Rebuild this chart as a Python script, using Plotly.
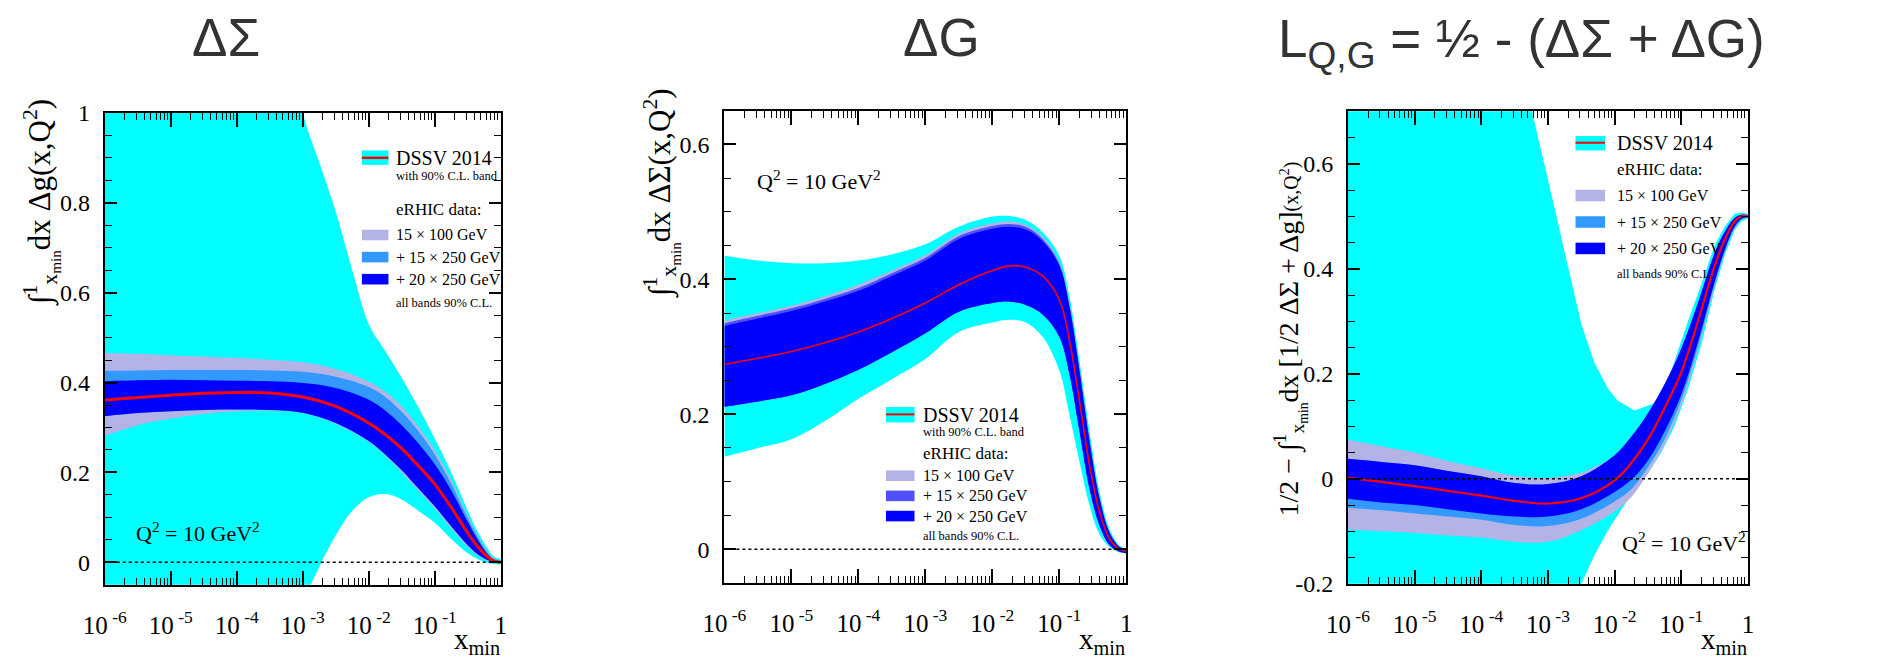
import plotly.graph_objects as go

W, H = 1881, 666
def px(x): return x / W
def py(y): return 1 - y / H

# ---------------- data ----------------
XTICK_VALS = [1e-6, 1e-5, 1e-4, 1e-3, 1e-2, 1e-1, 1]
XTICK_TEXT = ['10<sup> -6</sup>', '10<sup> -5</sup>', '10<sup> -4</sup>', '10<sup> -3</sup>',
              '10<sup> -2</sup>', '10<sup> -1</sup>', '1']

# Panel A : "ΔΣ" panel (y label Δg)
LOGX_A = [-6, -5.5, -5, -4.5, -4, -3.5, -3, -2.5, -2, -1.75, -1.5, -1.25, -1, -0.75, -0.5, -0.35, -0.2, -0.1, 0]
A_CENTRAL = [0.361, 0.367, 0.372, 0.376, 0.378, 0.377, 0.368, 0.347, 0.31, 0.284, 0.253, 0.215, 0.174, 0.122, 0.065, 0.035, 0.012, 0.003, 0.0]
A_20x250_HI = [0.403, 0.405, 0.406, 0.405, 0.404, 0.403, 0.399, 0.388, 0.362, 0.338, 0.305, 0.265, 0.218, 0.16, 0.09, 0.05, 0.018, 0.005, 0.001]
A_20x250_LO = [0.325, 0.332, 0.336, 0.339, 0.34, 0.339, 0.333, 0.31, 0.27, 0.24, 0.205, 0.165, 0.125, 0.08, 0.038, 0.018, 0.005, 0.0, -0.002]
A_15x250_HI = [0.426, 0.427, 0.428, 0.428, 0.428, 0.427, 0.424, 0.413, 0.39, 0.368, 0.335, 0.292, 0.24, 0.175, 0.098, 0.057, 0.021, 0.006, 0.001]
A_15x250_LO = [0.325, 0.332, 0.336, 0.339, 0.34, 0.339, 0.333, 0.31, 0.27, 0.24, 0.205, 0.165, 0.125, 0.08, 0.038, 0.018, 0.005, 0.0, -0.002]
A_15x100_HI = [0.466, 0.464, 0.461, 0.458, 0.455, 0.451, 0.445, 0.43, 0.402, 0.38, 0.347, 0.302, 0.25, 0.183, 0.103, 0.06, 0.023, 0.007, 0.001]
A_15x100_LO = [0.281, 0.305, 0.32, 0.33, 0.336, 0.337, 0.332, 0.308, 0.268, 0.237, 0.2, 0.16, 0.12, 0.075, 0.034, 0.015, 0.003, -0.001, -0.002]
LOGX_A_DSSV = [-6, -5, -4, -3.5, -3, -2.75, -2.5, -2.25, -2, -1.75, -1.5, -1.25, -1, -0.75, -0.5, -0.35, -0.2, -0.1, 0]
A_DSSV_HI = [3.0, 2.5, 1.9, 1.4, 1.0, 0.89, 0.78, 0.65, 0.53, 0.47, 0.41, 0.345, 0.275, 0.2, 0.115, 0.068, 0.03, 0.012, 0.008]
A_DSSV_LO = [-2.0, -1.5, -1.0, -0.5, -0.1, -0.01, 0.06, 0.115, 0.145, 0.152, 0.14, 0.115, 0.088, 0.052, 0.02, 0.007, -0.001, -0.004, -0.005]

# Panel B : "ΔG" panel (y label ΔΣ)
LOGX_B = [-6, -5.5, -5, -4.5, -4, -3.5, -3, -2.5, -2, -1.75, -1.5, -1.25, -1, -0.85, -0.7, -0.55, -0.4, -0.25, -0.1, 0]
B_CENTRAL = [0.274, 0.283, 0.293, 0.306, 0.322, 0.342, 0.365, 0.392, 0.413, 0.42, 0.418, 0.405, 0.37, 0.31, 0.22, 0.125, 0.055, 0.015, 0.0, -0.003]
B_20x250_HI = [0.331, 0.342, 0.353, 0.367, 0.383, 0.405, 0.428, 0.46, 0.475, 0.478, 0.474, 0.457, 0.42, 0.36, 0.265, 0.16, 0.075, 0.024, 0.003, -0.001]
B_20x250_LO = [0.211, 0.219, 0.228, 0.245, 0.266, 0.292, 0.32, 0.352, 0.365, 0.367, 0.362, 0.348, 0.315, 0.26, 0.175, 0.09, 0.035, 0.006, -0.004, -0.006]
B_15x250_HI = [0.335, 0.346, 0.357, 0.371, 0.387, 0.409, 0.432, 0.464, 0.479, 0.482, 0.478, 0.46, 0.423, 0.362, 0.267, 0.162, 0.076, 0.025, 0.003, -0.001]
B_15x100_HI = [0.339, 0.35, 0.361, 0.375, 0.392, 0.413, 0.436, 0.468, 0.483, 0.486, 0.481, 0.463, 0.425, 0.364, 0.268, 0.163, 0.077, 0.025, 0.003, -0.001]
B_DSSV_HI = [0.435, 0.428, 0.424, 0.424, 0.428, 0.437, 0.452, 0.478, 0.493, 0.494, 0.488, 0.47, 0.435, 0.375, 0.28, 0.175, 0.085, 0.03, 0.005, 0.0]
B_DSSV_LO = [0.137, 0.15, 0.163, 0.19, 0.223, 0.252, 0.282, 0.322, 0.336, 0.34, 0.336, 0.315, 0.265, 0.2, 0.13, 0.065, 0.022, 0.003, -0.005, -0.006]

# Panel C : "L_Q,G" panel
LOGX_C = [-6, -5.5, -5, -4.5, -4, -3.5, -3, -2.5, -2, -1.75, -1.5, -1.25, -1, -0.75, -0.5, -0.35, -0.2, -0.1, 0]
C_CENTRAL = [0.002, -0.006, -0.014, -0.023, -0.032, -0.042, -0.047, -0.037, -0.003, 0.03, 0.075, 0.135, 0.203, 0.3, 0.405, 0.455, 0.49, 0.5, 0.5]
C_20x250_HI = [0.038, 0.032, 0.026, 0.015, 0.005, -0.008, -0.01, 0.005, 0.045, 0.08, 0.125, 0.18, 0.248, 0.335, 0.43, 0.47, 0.497, 0.503, 0.502]
C_20x250_LO = [-0.038, -0.045, -0.05, -0.058, -0.066, -0.072, -0.072, -0.058, -0.025, -0.002, 0.035, 0.09, 0.16, 0.26, 0.375, 0.435, 0.48, 0.495, 0.498]
C_15x250_LO = [-0.055, -0.06, -0.066, -0.072, -0.078, -0.088, -0.09, -0.076, -0.043, -0.02, 0.022, 0.075, 0.15, 0.252, 0.37, 0.432, 0.478, 0.494, 0.498]
C_15x100_HI = [0.075, 0.062, 0.05, 0.034, 0.02, 0.006, 0.002, 0.012, 0.045, 0.08, 0.125, 0.18, 0.248, 0.335, 0.43, 0.47, 0.497, 0.503, 0.502]
C_15x100_LO = [-0.096, -0.1, -0.103, -0.108, -0.112, -0.12, -0.12, -0.098, -0.062, -0.035, 0.01, 0.065, 0.14, 0.245, 0.365, 0.43, 0.477, 0.493, 0.498]
LOGX_C_DSSV = [-6, -5, -4, -3.5, -3.24, -3, -2.75, -2.5, -2.3, -2.1, -1.95, -1.7, -1.5, -1.3, -1.1, -0.9, -0.7, -0.5, -0.35, -0.2, -0.1, 0]
C_DSSV_HI = [2.2, 1.7, 1.2, 0.88, 0.7, 0.57, 0.435, 0.295, 0.22, 0.172, 0.148, 0.13, 0.139, 0.15, 0.225, 0.3, 0.37, 0.445, 0.48, 0.505, 0.507, 0.505]
C_DSSV_LO = [-1.2, -0.9, -0.6, -0.45, -0.38, -0.33, -0.27, -0.2, -0.145, -0.098, -0.068, -0.02, 0.01, 0.05, 0.1, 0.17, 0.255, 0.36, 0.425, 0.474, 0.49, 0.496]

A_YTICKS = [0, 0.2, 0.4, 0.6, 0.8, 1.0]
A_YTEXT = ['0', '0.2', '0.4', '0.6', '0.8', '1']
B_YTICKS = [0, 0.2, 0.4, 0.6]
B_YTEXT = ['0', '0.2', '0.4', '0.6']
C_YTICKS = [-0.2, 0, 0.2, 0.4, 0.6]
C_YTEXT = ['-0.2', '0', '0.2', '0.4', '0.6']

TITLES = ['ΔΣ', 'ΔG', 'L<sub>Q,G</sub> = ½ - (ΔΣ + ΔG)']
LEG_DSSV = 'DSSV 2014'
LEG_CL = 'with 90% C.L. band'
LEG_ERHIC = 'eRHIC data:'
LEG_SETS = ['15 × 100 GeV', '+ 15 × 250 GeV', '+ 20 × 250 GeV']
LEG_ALL = 'all bands 90% C.L.'
Q2_TEXT = 'Q<sup>2</sup> = 10 GeV<sup>2</sup>'

# ---------------- style ----------------
COL_DSSV = '#00ffff'
COL_15x100 = '#b3b3e6'
COL_15x250 = '#3399ff'
COL_15x250_B = '#5050ff'
COL_20x250 = '#0000ff'
COL_RED = '#ff0000'
SERIF = 'Liberation Serif, Times New Roman, serif'
SANS = 'Liberation Sans, Arial, sans-serif'

fig = go.Figure()

def xs_of(logx):
    return [10 ** v for v in logx]

def band(logx, lo, hi, color, ax, shape='spline'):
    xs = xs_of(logx)
    fig.add_trace(go.Scatter(x=xs, y=lo, mode='lines', line=dict(width=0, shape=shape, color=color),
                             xaxis='x' + ax, yaxis='y' + ax, hoverinfo='skip', showlegend=False))
    fig.add_trace(go.Scatter(x=xs, y=hi, mode='lines', line=dict(width=0, shape=shape, color=color),
                             fill='tonexty', fillcolor=color,
                             xaxis='x' + ax, yaxis='y' + ax, hoverinfo='skip', showlegend=False))

def central(logx, y, ax, width):
    fig.add_trace(go.Scatter(x=xs_of(logx), y=y, mode='lines', line=dict(color=COL_RED, width=width, shape='spline'),
                             xaxis='x' + ax, yaxis='y' + ax, hoverinfo='skip', showlegend=False))

# Panel A
band(LOGX_A_DSSV, A_DSSV_LO, A_DSSV_HI, COL_DSSV, '')
band(LOGX_A, A_15x100_LO, A_15x100_HI, COL_15x100, '')
band(LOGX_A, A_15x250_LO, A_15x250_HI, COL_15x250, '')
band(LOGX_A, A_20x250_LO, A_20x250_HI, COL_20x250, '')
central(LOGX_A, A_CENTRAL, '', 3)
# Panel B
band(LOGX_B, B_DSSV_LO, B_DSSV_HI, COL_DSSV, '2')
band(LOGX_B, B_20x250_LO, B_15x100_HI, COL_15x100, '2')
band(LOGX_B, B_20x250_LO, B_15x250_HI, COL_15x250_B, '2')
band(LOGX_B, B_20x250_LO, B_20x250_HI, COL_20x250, '2')
central(LOGX_B, B_CENTRAL, '2', 1.6)
# Panel C
band(LOGX_C_DSSV, C_DSSV_LO, C_DSSV_HI, COL_DSSV, '3', shape='linear')
band(LOGX_C, C_15x100_LO, C_15x100_HI, COL_15x100, '3')
band(LOGX_C, C_15x250_LO, C_20x250_HI, COL_15x250, '3')
band(LOGX_C, C_20x250_LO, C_20x250_HI, COL_20x250, '3')
central(LOGX_C, C_CENTRAL, '3', 2.2)

XMINOR = [m * 10 ** k for k in range(-6, 0) for m in range(2, 10)]

def xaxis(dom, anchor):
    return dict(type='log', range=[-6, 0], domain=dom, anchor=anchor, showgrid=False, zeroline=False,
                showline=True, linecolor='black', linewidth=2, mirror='allticks',
                ticks='inside', ticklen=14, tickwidth=1.5, tickcolor='black',
                tickmode='array', tickvals=XTICK_VALS, ticktext=XTICK_TEXT,
                tickfont=dict(family=SERIF, size=25, color='black'), ticklabelstandoff=17,
                minor=dict(tickmode='array', tickvals=XMINOR, ticks='inside', ticklen=7,
                           tickwidth=1.2, tickcolor='black', showgrid=False),
                fixedrange=True)

def yaxis(dom, anchor, rng, vals, texts):
    return dict(range=rng, domain=dom, anchor=anchor, showgrid=False, zeroline=False,
                showline=True, linecolor='black', linewidth=2, mirror='allticks',
                ticks='inside', ticklen=12, tickwidth=1.5, tickcolor='black',
                tickmode='array', tickvals=vals, ticktext=texts,
                tickfont=dict(family=SERIF, size=24, color='black'), ticklabelstandoff=8,
                minor=dict(tickmode='linear', tick0=0, dtick=0.05, ticks='inside', ticklen=7,
                           tickwidth=1.2, tickcolor='black', showgrid=False),
                fixedrange=True)

PAN = {
    '': dict(x0=84, x1=486, y0=104, y1=595, rng=[-0.05, 1.0], vals=A_YTICKS, txt=A_YTEXT),
    '2': dict(x0=713, x1=1121, y0=101.7, y1=593, rng=[-0.05, 0.65], vals=B_YTICKS, txt=B_YTEXT),
    '3': dict(x0=1346, x1=1752, y0=102.3, y1=594, rng=[-0.2, 0.7], vals=C_YTICKS, txt=C_YTEXT),
}

layout = dict(width=W, height=H, autosize=False, margin=dict(l=0, r=0, t=0, b=0),
              paper_bgcolor='white', plot_bgcolor='white', showlegend=False)
for k, p in PAN.items():
    layout['xaxis' + k] = xaxis([px(p['x0']), px(p['x1'])], 'y' + k)
    layout['yaxis' + k] = yaxis([py(p['y1']), py(p['y0'])], 'x' + k, p['rng'], p['vals'], p['txt'])
fig.update_layout(**layout)

shapes = []
ann = []
# dotted zero lines
for k in PAN:
    shapes.append(dict(type='line', xref=('x' + k if k else 'x') + ' domain', yref='y' + k, x0=0, x1=1, y0=0, y1=0,
                       line=dict(color='black', width=1.5, dash='dot'), layer='above'))

def text(x, y, s, size, family=SERIF, xanchor='left', yanchor='middle', angle=0, color='black'):
    ann.append(dict(x=px(x), y=py(y), xref='paper', yref='paper', text=s, showarrow=False,
                    xanchor=xanchor, yanchor=yanchor, textangle=angle,
                    font=dict(family=family, size=size, color=color)))

def rect(x0, x1, y0, y1, color):
    shapes.append(dict(type='rect', xref='paper', yref='paper', x0=px(x0), x1=px(x1), y0=py(y1), y1=py(y0),
                       fillcolor=color, line=dict(width=0), layer='above'))

def hline(x0, x1, y, color, width):
    shapes.append(dict(type='line', xref='paper', yref='paper', x0=px(x0), x1=px(x1), y0=py(y), y1=py(y),
                       line=dict(color=color, width=width), layer='above'))

# titles
text(207, 26, TITLES[0], 53, SANS, 'center', 'middle', color='#333333')
text(933, 26, TITLES[1], 53, SANS, 'center', 'middle', color='#333333')
text(1522, 31, TITLES[2], 53, SANS, 'center', 'middle', color='#333333')

# y axis titles
text(20, 197, '∫<sup>1</sup><sub>x<sub>min</sub></sub>dx Δg(x,Q<sup>2</sup>)', 31, SERIF, 'center', 'middle', angle=-90)
text(648, 187, '∫<sup>1</sup><sub>x<sub>min</sub></sub>dx ΔΣ(x,Q<sup>2</sup>)', 31, SERIF, 'center', 'middle', angle=-90)
text(1287, 339, '1/2 − ∫<sup>1</sup><sub>x<sub>min</sub></sub>dx [1/2 ΔΣ + Δg]<span style="font-size:20px">(x,Q<sup>2</sup>)</span>',
     28, SERIF, 'center', 'middle', angle=-90)

# x axis titles
for k, p in PAN.items():
    text(p['x1'] + 1, 674, 'x<sub>min</sub>', 29, SERIF, 'right', 'bottom')

# Q^2 labels
text(114, 540, Q2_TEXT, 22)
text(744, 174, Q2_TEXT, 22)
text(1622, 551, Q2_TEXT, 22)

# legend panel A
rect(345, 372, 143, 158, COL_DSSV); hline(345, 372, 150.7, COL_RED, 2.5)
text(378, 151, LEG_DSSV, 20)
text(378, 170, LEG_CL, 12.5)
text(378, 205, LEG_ERHIC, 17)
for yc, col, s in zip([231, 254, 277], [COL_15x100, COL_15x250, COL_20x250], LEG_SETS):
    rect(345, 372, yc - 5.5, yc + 5.5, col)
    text(378, yc, s, 16)
text(378, 302, LEG_ALL, 12.5)

# legend panel B
rect(877, 906, 410, 426, COL_DSSV); hline(877, 906, 417.7, COL_RED, 2)
text(913, 418, LEG_DSSV, 20)
text(913, 436, LEG_CL, 12.5)
text(913, 458, LEG_ERHIC, 17)
for yc, col, s in zip([481.5, 502.5, 523.5], [COL_15x100, COL_15x250_B, COL_20x250], LEG_SETS):
    rect(877, 906, yc - 5.5, yc + 5.5, col)
    text(913, yc, s, 16)
text(913, 544, LEG_ALL, 12.5)

# legend panel C
rect(1577, 1607, 128, 143, COL_DSSV); hline(1577, 1607, 135, COL_RED, 2)
text(1617, 135, LEG_DSSV, 20)
text(1617, 163, LEG_ERHIC, 17)
for yc, col, s in zip([190, 217.5, 245], [COL_15x100, COL_15x250, COL_20x250], LEG_SETS):
    rect(1577, 1607, yc - 6, yc + 6, col)
    text(1617, yc, s, 16)
text(1617, 272, LEG_ALL, 12.5)

fig.update_layout(shapes=shapes, annotations=ann)
fig.write_html('out.html', config={'displayModeBar': False, 'responsive': False})
